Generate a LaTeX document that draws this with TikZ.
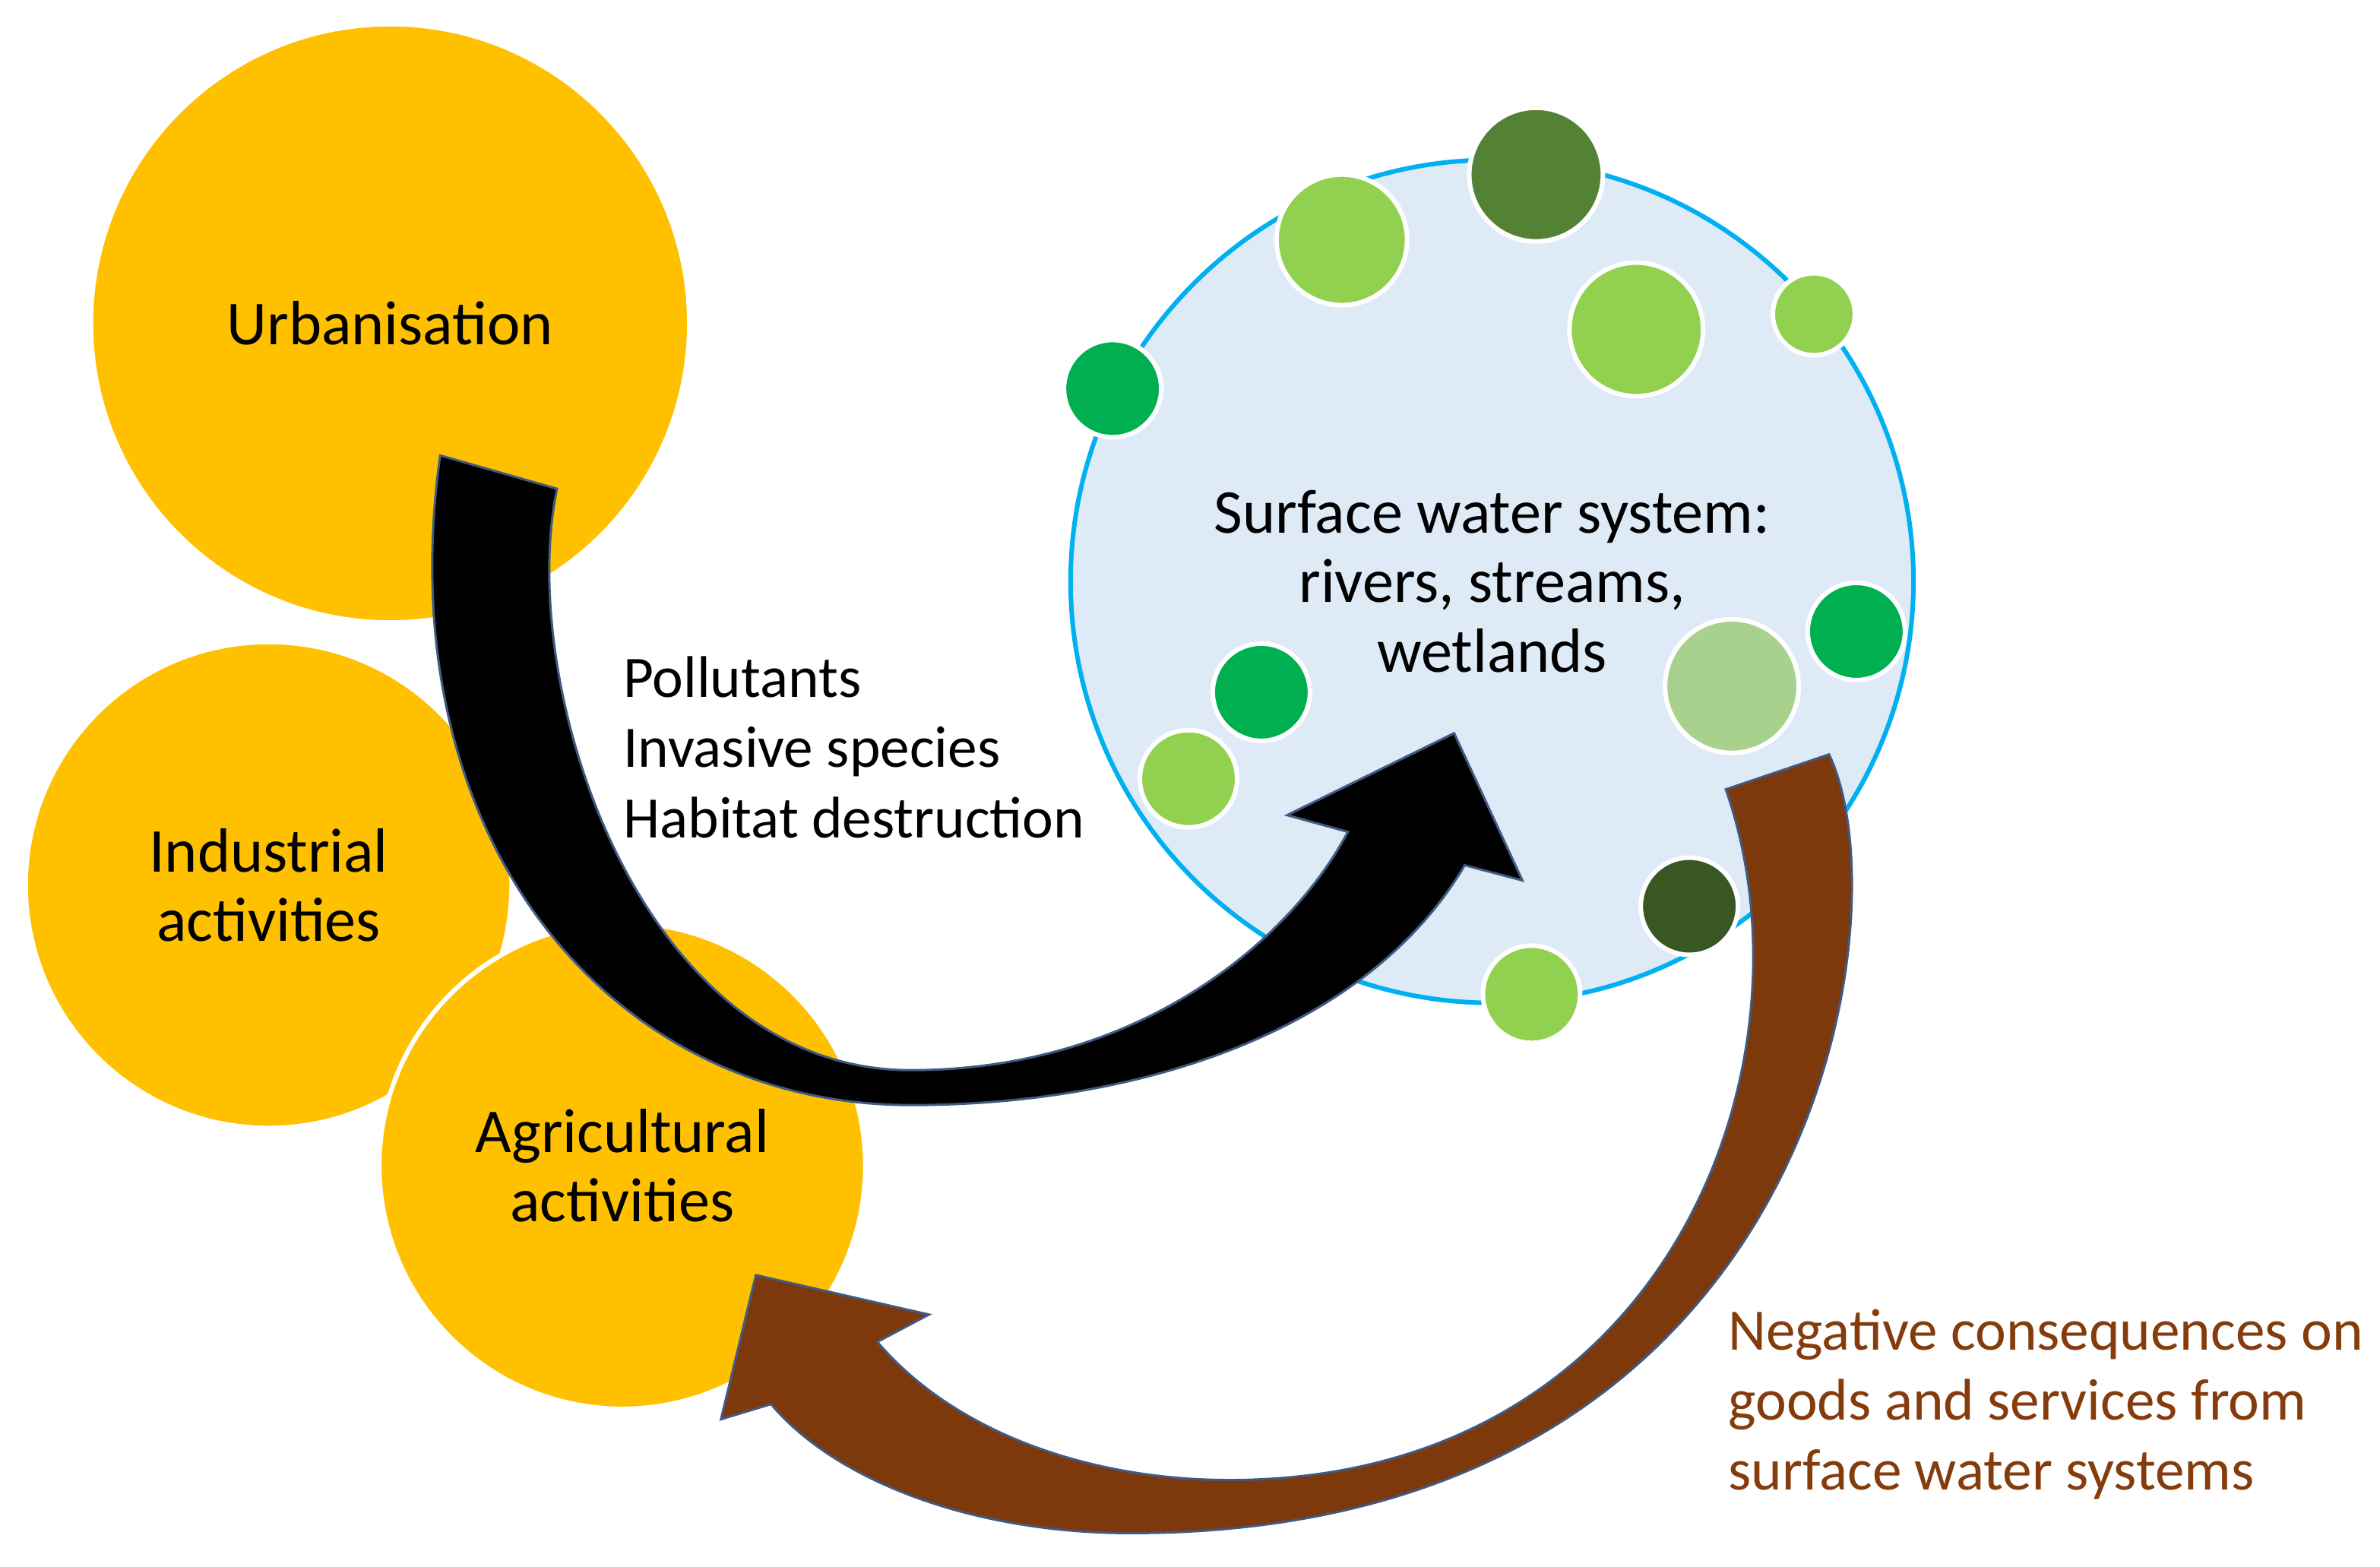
\documentclass[tikz,border=0pt]{standalone}
\usepackage{fontspec}
\setmainfont{Carlito}
\definecolor{sunyellow}{RGB}{255,192,0}
\definecolor{waterblue}{RGB}{222,235,247}
\definecolor{watercyan}{RGB}{0,176,240}
\definecolor{leafgreen}{RGB}{146,208,80}
\definecolor{brightgreen}{RGB}{0,176,80}
\definecolor{olivegreen}{RGB}{84,130,53}
\definecolor{darkgreen}{RGB}{56,87,35}
\definecolor{palegreen}{RGB}{169,209,142}
\definecolor{rustbrown}{RGB}{125,56,12}
\definecolor{textbrown}{RGB}{133,60,12}
\definecolor{edgeblue}{RGB}{65,90,130}
\tikzstyle{driver}=[circle,fill=sunyellow,draw=white,line width=0.3mm,inner sep=0pt,align=center,font=\fontsize{11.7}{13}\selectfont]
\tikzstyle{blob}=[circle,draw=white,line width=0.3mm,inner sep=0pt]
\tikzstyle{label}=[align=left,anchor=north west,inner sep=0pt,font=\fontsize{11}{13.1}\selectfont]
\begin{document}
\begin{tikzpicture}[x=0.01cm,y=-0.01cm]
    \useasboundingbox (0,0) rectangle (1568,1032);
    \fill[white] (0,0) rectangle (1568,1032);
    \node[driver,minimum size=3.94cm] (urban) at (257,213) {Urbanisation};
    \node[driver,minimum size=3.2cm] (indus) at (177,583) {Industrial\\activities};
    \node[driver,minimum size=3.2cm] (agri) at (410,768) {Agricultural\\activities};
    \node[circle,fill=waterblue,draw=watercyan,line width=0.3mm,inner sep=0pt,minimum size=5.55cm] (water) at (983,383) {};
    \node[align=center,font=\fontsize{11.7}{13}\selectfont] (watertext) at (983,383) {Surface water system:\\rivers, streams,\\wetlands};
    % small patches on the water body
    \node[blob,fill=olivegreen,minimum size=0.88cm] (b1) at (1012,115) {};
    \node[blob,fill=leafgreen,minimum size=0.86cm] (b2) at (884,158) {};
    \node[blob,fill=leafgreen,minimum size=0.88cm] (b3) at (1078,217) {};
    \node[blob,fill=leafgreen,minimum size=0.54cm] (b4) at (1195,207) {};
    \node[blob,fill=brightgreen,minimum size=0.64cm] (b5) at (733,256) {};
    \node[blob,fill=brightgreen,minimum size=0.64cm] (b6) at (1223,416) {};
    \node[blob,fill=palegreen,minimum size=0.88cm] (b7) at (1141,452) {};
    \node[blob,fill=brightgreen,minimum size=0.64cm] (b8) at (831,456) {};
    \node[blob,fill=leafgreen,minimum size=0.64cm] (b9) at (783,513) {};
    \node[blob,fill=darkgreen,minimum size=0.64cm] (b10) at (1113,597) {};
    \node[blob,fill=leafgreen,minimum size=0.64cm] (b11) at (1009,655) {};
    % pressure arrow
    \draw[fill=black,draw=edgeblue,line width=0.15mm]
    (290,300) -- (367,322) .. controls (340,450) and (420,705) .. (600,705)
    .. controls (750,705) and (850,620) .. (888,548) -- (848,537) -- (958,483)
    -- (1003,580) -- (965,570) .. controls (900,680) and (750,728) .. (600,728)
    .. controls (400,728) and (255,550) .. (290,300) -- cycle;
    % feedback arrow
    \draw[fill=rustbrown,draw=edgeblue,line width=0.15mm]
    (1137,520) -- (1205,497) .. controls (1255,600) and (1200,1010) .. (745,1010)
    .. controls (640,1010) and (550,975) .. (508,925) -- (475,935) -- (498,840)
    -- (612,866) -- (578,884) .. controls (630,945) and (720,975) .. (810,975)
    .. controls (1100,975) and (1200,700) .. (1137,520) -- cycle;
    \node[label] (press) at (410,432) {Pollutants\\Invasive species\\Habitat destruction};
    \node[label,text=textbrown] (conseq) at (1138,862)
      {Negative consequences on\\goods and services from\\surface water systems};
\end{tikzpicture}
\end{document}
